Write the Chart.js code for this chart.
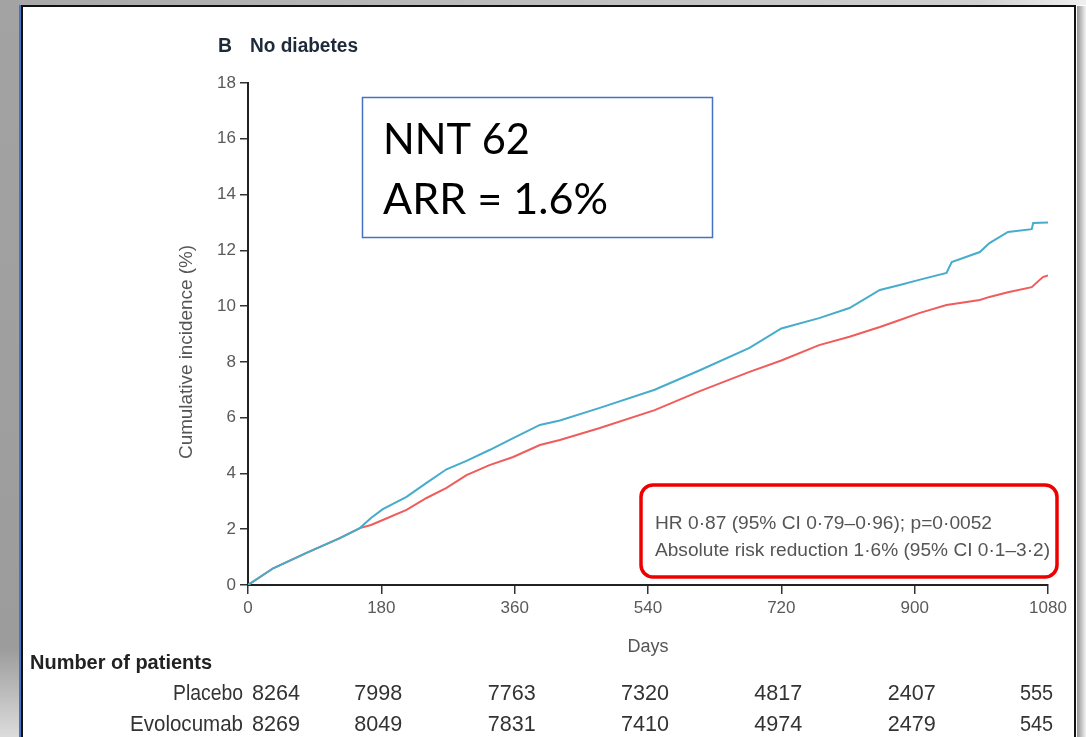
<!DOCTYPE html>
<html>
<head>
<meta charset="utf-8">
<script src="https://cdn.jsdelivr.net/npm/chart.js@4/dist/chart.umd.min.js"></script>
<style>
html,body{margin:0;padding:0;background:#fff;}
#c{display:block;}
</style>
</head>
<body>
<canvas id="c" width="1086" height="737"></canvas>
<script>
// ---- data ----
const placeboDays = [0, 34, 79, 124, 151, 166, 182, 214, 241, 268, 295, 326, 358, 394, 421, 475, 549, 610, 677, 720, 771, 812, 853, 880, 906, 943, 950, 988, 1001, 1026, 1058, 1060, 1080];
const placeboPct  = [0, 0.6, 1.15, 1.68, 2.04, 2.4, 2.72, 3.16, 3.66, 4.15, 4.45, 4.84, 5.27, 5.74, 5.9, 6.35, 7.0, 7.7, 8.5, 9.2, 9.57, 9.93, 10.58, 10.76, 10.94, 11.19, 11.58, 11.94, 12.26, 12.66, 12.76, 12.98, 13.0];
const evoDays = [0, 34, 79, 124, 151, 166, 182, 214, 241, 268, 295, 326, 358, 394, 421, 475, 549, 610, 677, 720, 771, 812, 853, 880, 906, 943, 988, 1001, 1026, 1058, 1073, 1080];
const evoPct  = [0, 0.6, 1.15, 1.68, 2.04, 2.15, 2.33, 2.69, 3.12, 3.48, 3.94, 4.3, 4.59, 5.02, 5.2, 5.63, 6.27, 6.95, 7.64, 8.05, 8.6, 8.9, 9.25, 9.5, 9.75, 10.04, 10.22, 10.33, 10.5, 10.68, 11.04, 11.1];
const xTickDays = [0, 180, 360, 540, 720, 900, 1080];
const yTickValues = [0, 2, 4, 6, 8, 10, 12, 14, 16, 18];
const riskDays = [0, 180, 360, 540, 720, 900, 1080];
const placeboRisk = [8264, 7998, 7763, 7320, 4817, 2407, 555];
const evoRisk = [8269, 8049, 7831, 7410, 4974, 2479, 545];
const seriesNames = ['Placebo', 'Evolocumab'];
const panelTitle = ['B', 'No diabetes'];
const yTitle = 'Cumulative incidence (%)';
const xTitle = 'Days';
const tableTitle = 'Number of patients';
const nntLines = ['NNT 62', 'ARR = 1.6%'];
const statLines = ['HR 0·87 (95% CI 0·79–0·96); p=0·0052', 'Absolute risk reduction 1·6% (95% CI 0·1–3·2)'];

const SANS = "'Liberation Sans', Arial, sans-serif";

function toXY(xs, ys){ return xs.map((x,i)=>({x:x, y:ys[i]})); }

// draw text squeezed/stretched horizontally to a given width
function fitText(ctx, text, x, y, width, align){
  const w = ctx.measureText(text).width;
  const s = width / w;
  ctx.save();
  ctx.translate(x, y);
  ctx.scale(s, 1);
  ctx.textAlign = align || 'left';
  ctx.fillText(text, 0, 0);
  ctx.restore();
}

const decor = {
  id: 'decor',
  beforeDraw(chart){
    const ctx = chart.ctx;
    ctx.save();
    ctx.fillStyle = '#fff';
    ctx.fillRect(0,0,1086,737);
    const g = ctx.createLinearGradient(0,0,0,737);
    g.addColorStop(0,'#a3a3a3'); g.addColorStop(0.88,'#9c9c9c'); g.addColorStop(1,'#dcdcdc');
    ctx.fillStyle = g; ctx.fillRect(0,0,20,737);
    const gt = ctx.createLinearGradient(20,0,1086,0);
    gt.addColorStop(0,'#a8a8a8'); gt.addColorStop(0.9,'#d0d0d0'); gt.addColorStop(1,'#f0f0f0');
    ctx.fillStyle = gt; ctx.fillRect(20,0,1066,5);
    const gr = ctx.createLinearGradient(1076,0,1086,0);
    gr.addColorStop(0,'#888'); gr.addColorStop(1,'#f4f4f4');
    ctx.fillStyle = gr; ctx.fillRect(1077,6,9,731);
    ctx.fillStyle = '#4472c4'; ctx.fillRect(19,5,2,732);
    ctx.fillStyle = '#111';
    ctx.fillRect(21,5,2,732);
    ctx.fillRect(21,5,1055,2);
    ctx.fillRect(1074,5,2,732);
    ctx.restore();
  },
  afterDraw(chart){
    const ctx = chart.ctx;
    const xs = chart.scales.x;
    ctx.save();
    ctx.textBaseline = 'alphabetic';
    // panel title
    ctx.fillStyle = '#1e2a3a';
    ctx.font = 'bold 21px ' + SANS;
    fitText(ctx, panelTitle[0], 218, 52, 14);
    ctx.font = 'bold 20px ' + SANS;
    fitText(ctx, panelTitle[1], 250, 52, 108);

    // y title
    ctx.save();
    ctx.translate(192, 352);
    ctx.rotate(-Math.PI/2);
    ctx.fillStyle = '#555';
    ctx.font = '19px ' + SANS;
    fitText(ctx, yTitle, 0, 0, 214, 'center');
    ctx.restore();

    // NNT box
    ctx.strokeStyle = '#4472c4';
    ctx.lineWidth = 1.5;
    ctx.strokeRect(362.5, 97.5, 350, 140);
    ctx.fillStyle = '#000';
    ctx.font = '42px Lato, Carlito, sans-serif';
    fitText(ctx, nntLines[0], 383, 154, 147);
    fitText(ctx, nntLines[1], 383, 214, 225);

    // red stats box
    ctx.strokeStyle = '#ee0000';
    ctx.lineWidth = 3.5;
    ctx.beginPath();
    ctx.roundRect(641, 485, 416, 92, 12);
    ctx.stroke();
    ctx.fillStyle = '#555';
    ctx.font = '18px ' + SANS;
    fitText(ctx, statLines[0], 655, 529, 337);
    fitText(ctx, statLines[1], 655, 556, 395);

    // number at risk table
    ctx.fillStyle = '#222';
    ctx.font = 'bold 21px ' + SANS;
    fitText(ctx, tableTitle, 30, 669, 182);
    ctx.font = '22px ' + SANS;
    ctx.fillStyle = '#333';
    fitText(ctx, seriesNames[0], 243, 700, 70, 'right');
    fitText(ctx, seriesNames[1], 243, 731, 113, 'right');
    const rows = [[placeboRisk, 700], [evoRisk, 731]];
    rows.forEach(([vals, y]) => {
      vals.forEach((v, i) => {
        const px = xs.getPixelForValue(riskDays[i]);
        const s = String(v);
        const w = s.length * 12;
        if (i === 0) fitText(ctx, s, px + 4, y, w, 'left');
        else if (i === vals.length - 1) fitText(ctx, s, px + 5, y, w * 0.92, 'right');
        else fitText(ctx, s, px - 3, y, w, 'center');
      });
    });
    ctx.restore();
  }
};

new Chart(document.getElementById('c'), {
  type: 'line',
  data: {
    datasets: [
      { label: seriesNames[0], data: toXY(placeboDays, placeboPct), borderColor: 'rgb(70,172,204)', borderWidth: 2, pointRadius: 0, tension: 0, fill: false },
      { label: seriesNames[1], data: toXY(evoDays, evoPct), borderColor: 'rgb(240,92,92)', borderWidth: 2, pointRadius: 0, tension: 0, fill: false }
    ]
  },
  options: {
    responsive: false,
    animation: false,
    devicePixelRatio: 1,
    layout: { padding: { left: 0, top: 83, right: 38, bottom: 0 } },
    plugins: { legend: { display: false }, tooltip: { enabled: false }, title: { display: false } },
    scales: {
      x: {
        type: 'linear', min: 0, max: 1080,
        afterFit(s){ s.height = 152; },
        afterBuildTicks(s){ s.ticks = xTickDays.map(v => ({ value: v })); },
        grid: { drawOnChartArea: false, drawTicks: true, tickLength: 9, color: '#333', lineWidth: 1.5 },
        border: { display: true, color: '#222', width: 2 },
        ticks: { color: '#5a5a5a', font: { size: 17, family: SANS }, padding: 4, maxRotation: 0, callback: v => String(v) },
        title: { display: true, text: xTitle, color: '#555', font: { size: 18, family: SANS }, padding: { top: 0, bottom: 79 } }
      },
      y: {
        type: 'linear', min: 0, max: 18,
        afterFit(s){ s.width = 248; },
        afterBuildTicks(s){ s.ticks = yTickValues.map(v => ({ value: v })); },
        grid: { drawOnChartArea: false, drawTicks: true, tickLength: 8, color: '#333', lineWidth: 1.5 },
        border: { display: true, color: '#222', width: 2 },
        ticks: { color: '#5a5a5a', font: { size: 17, family: SANS }, padding: 4, callback: v => String(v) }
      }
    }
  },
  plugins: [decor]
});
</script>
</body>
</html>
